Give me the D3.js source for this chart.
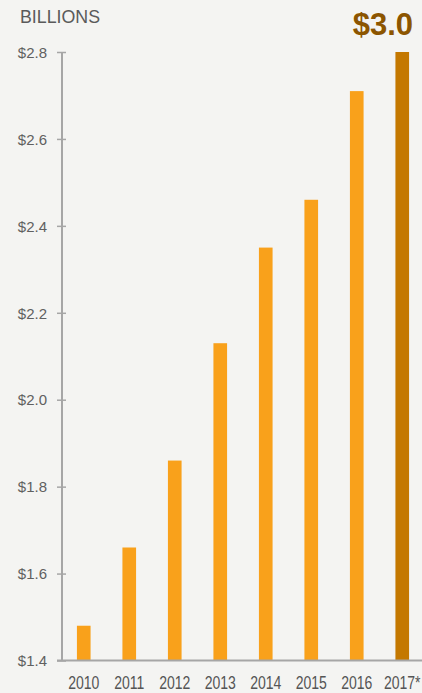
<!DOCTYPE html>
<html>
<head>
<meta charset="utf-8">
<script src="https://cdn.jsdelivr.net/npm/d3@7"></script>
<style>
  html, body { margin: 0; padding: 0; background: #f4f4f2; }
  svg { display: block; }
  text { font-family: "Liberation Sans", Arial, Helvetica, sans-serif; }
</style>
</head>
<body>
<svg id="chart" width="422" height="693"></svg>
<script>
const years = ["2010", "2011", "2012", "2013", "2014", "2015", "2016", "2017*"];
const values = [1.48, 1.66, 1.86, 2.13, 2.35, 2.46, 2.71, 3.0];
const highlightIndex = 7;
const yTicks = [1.4, 1.6, 1.8, 2.0, 2.2, 2.4, 2.6, 2.8];
const tickLabels = ["$1.4", "$1.6", "$1.8", "$2.0", "$2.2", "$2.4", "$2.6", "$2.8"];
const unitLabel = "BILLIONS";
const calloutLabel = "$3.0";

const W = 422, H = 693;
const axisX = 61.5, baseY = 660.5, topY = 52;
const svg = d3.select("#chart");

svg.append("rect").attr("width", W).attr("height", H).attr("fill", "#f4f4f2");

const x = d3.scaleBand().domain(years).range([61, 425]).paddingInner(0.7).paddingOuter(0.35);
const y = d3.scaleLinear().domain([1.4, 2.8]).range([baseY, topY]);

// bars
svg.append("g").selectAll("rect").data(years).join("rect")
  .attr("x", d => x(d))
  .attr("width", x.bandwidth())
  .attr("y", (d, i) => y(Math.min(values[i], 2.8)))
  .attr("height", (d, i) => baseY - y(Math.min(values[i], 2.8)))
  .attr("fill", (d, i) => i === highlightIndex ? "#c47800" : "#f9a11b");

// y axis
const yAxis = d3.axisLeft(y).tickValues(yTicks)
  .tickFormat((d, i) => tickLabels[i]).tickSizeOuter(0).tickSizeInner(4.5);
const gy = svg.append("g").attr("transform", `translate(${axisX},0)`).call(yAxis);
gy.select(".domain").attr("stroke", "#a6a6a6").attr("stroke-width", 2);
gy.selectAll(".tick line").attr("x1", -4.5).attr("x2", 4.5)
  .attr("stroke", "#a6a6a6").attr("stroke-width", 1.5);
gy.selectAll(".tick text").attr("x", -14.5).attr("dy", "0.35em")
  .attr("fill", "#606060").style("font-size", "15px")
  .style("font-family", "'Liberation Sans', Arial, sans-serif");

// baseline
svg.append("line").attr("x1", 57).attr("x2", W).attr("y1", baseY).attr("y2", baseY)
  .attr("stroke", "#a6a6a6").attr("stroke-width", 2);

// x labels (condensed)
svg.append("g").selectAll("text").data(years).join("text")
  .attr("transform", d => `translate(${x(d) + x.bandwidth() / 2},689) scale(0.78,1)`)
  .attr("text-anchor", "middle")
  .attr("fill", "#555555")
  .style("font-size", "18px")
  .text(d => d);

// unit label
svg.append("text").attr("x", 20).attr("y", 23)
  .attr("fill", "#5a5a5a").style("font-size", "17.8px").text(unitLabel);

// callout
svg.append("text").attr("x", 413).attr("y", 35).attr("text-anchor", "end")
  .attr("fill", "#8c5500").style("font-size", "31px").style("font-weight", "bold")
  .text(calloutLabel);
</script>
</body>
</html>
